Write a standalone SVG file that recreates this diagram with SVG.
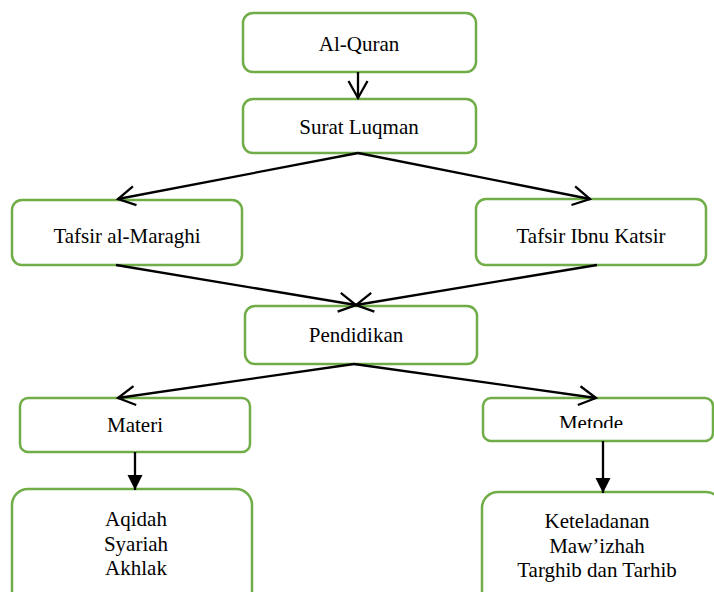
<svg xmlns="http://www.w3.org/2000/svg" width="714" height="592" viewBox="0 0 714 592">
<style>
.box{fill:#fff;stroke:#70AD47;stroke-width:2.5}
.t{font-family:"Liberation Serif","Times New Roman","DejaVu Serif",serif;font-size:21px;fill:#000;text-anchor:middle}
.c{stroke:#000;stroke-width:2.3;fill:none}
</style>
<defs>
<marker id="open" markerUnits="userSpaceOnUse" markerWidth="50" markerHeight="50" viewBox="-25 -25 50 50" refX="0" refY="0" orient="auto">
<path d="M-17,-9.5 L0,0 L-17,9.5" fill="none" stroke="#000" stroke-width="2.3"/>
</marker>
<marker id="fill" markerUnits="userSpaceOnUse" markerWidth="40" markerHeight="40" viewBox="-20 -20 40 40" refX="0" refY="0" orient="auto">
<path d="M-15,-7.5 L0,0 L-15,7.5 Z" fill="#000"/>
</marker>
<clipPath id="mclip"><rect x="483" y="398" width="231" height="30"/></clipPath>
</defs>
<g id="alquran"><rect class="box" x="243" y="13" width="233" height="59" rx="10"/><text class="t" x="359" y="51">Al-Quran</text></g>
<g id="suratluqman"><rect class="box" x="243" y="99" width="233" height="54" rx="10"/><text class="t" x="359" y="134">Surat Luqman</text></g>
<g id="maraghi"><rect class="box" x="12" y="200" width="230" height="65" rx="10"/><text class="t" x="127" y="243">Tafsir al-Maraghi</text></g>
<g id="katsir"><rect class="box" x="476" y="199" width="230" height="66" rx="10"/><text class="t" x="591" y="243">Tafsir Ibnu Katsir</text></g>
<g id="pendidikan"><rect class="box" x="245" y="306" width="232" height="58" rx="10"/><text class="t" x="356" y="342">Pendidikan</text></g>
<g id="materi"><rect class="box" x="20" y="398" width="230" height="54" rx="8"/><text class="t" x="135" y="432">Materi</text></g>
<g id="metode"><rect class="box" x="483" y="398" width="230" height="43" rx="8"/><text class="t" x="591" y="430" clip-path="url(#mclip)">Metode</text></g>
<g id="materi-isi"><rect class="box" x="12" y="489" width="240" height="120" rx="16"/>
<text class="t" x="136" y="526">Aqidah</text><text class="t" x="136" y="551">Syariah</text><text class="t" x="136" y="575">Akhlak</text></g>
<g id="metode-isi"><rect class="box" x="482" y="492" width="240" height="120" rx="16"/>
<text class="t" x="597" y="528">Keteladanan</text><text class="t" x="597" y="553">Maw’izhah</text><text class="t" x="597" y="577">Targhib dan Tarhib</text></g>
<g id="connectors">
<line class="c" x1="358" y1="72" x2="358" y2="98" marker-end="url(#open)"/>
<line class="c" x1="358" y1="153" x2="118" y2="199" marker-end="url(#open)"/>
<line class="c" x1="358" y1="153" x2="590" y2="199" marker-end="url(#open)"/>
<line class="c" x1="116" y1="265" x2="356" y2="305" marker-end="url(#open)"/>
<line class="c" x1="597" y1="265" x2="356" y2="305" marker-end="url(#open)"/>
<line class="c" x1="354" y1="364" x2="118" y2="398" marker-end="url(#open)"/>
<line class="c" x1="354" y1="364" x2="596" y2="398" marker-end="url(#open)"/>
<line class="c" x1="135" y1="452" x2="135" y2="490" marker-end="url(#fill)"/>
<line class="c" x1="603" y1="441" x2="603" y2="493" marker-end="url(#fill)"/>
</g>
</svg>
